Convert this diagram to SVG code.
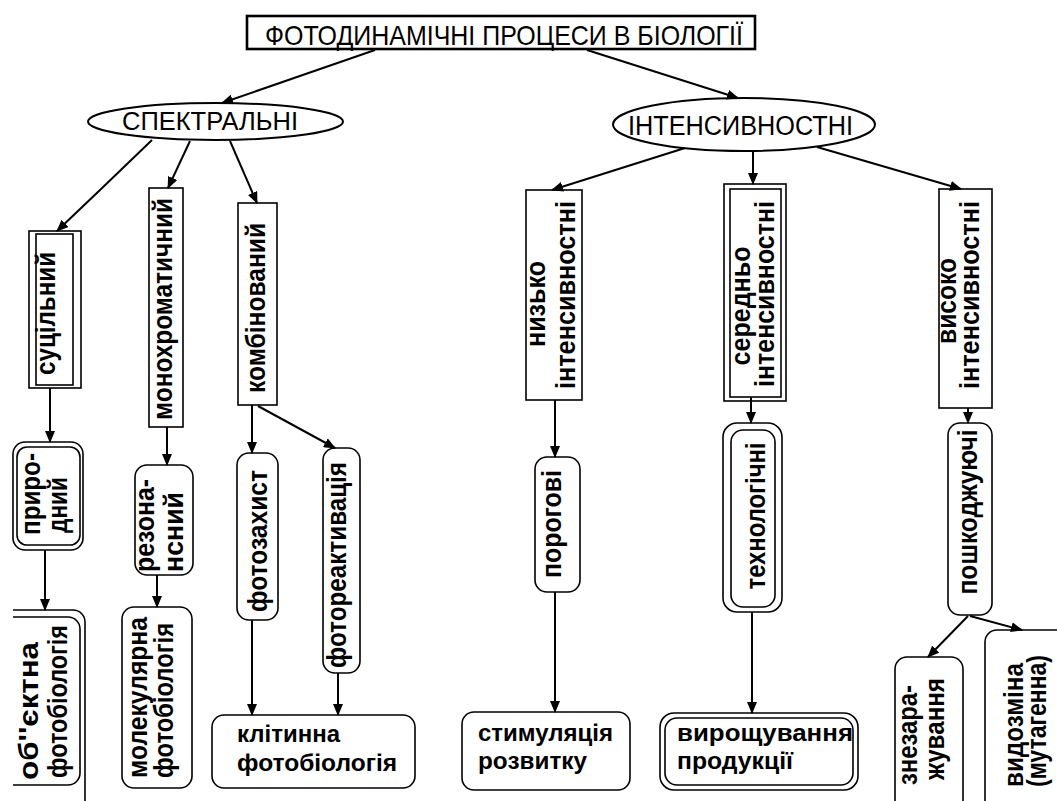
<svg xmlns="http://www.w3.org/2000/svg" width="1057" height="801" viewBox="0 0 1057 801">
<defs>
<marker id="ah" markerWidth="12" markerHeight="10" refX="11" refY="5" orient="auto" markerUnits="userSpaceOnUse"><path d="M0,0 L12,5 L0,10 z" fill="#000"/></marker>
<style>
.n{fill:#fff;stroke:#000;stroke-width:1.6}
.o{fill:none;stroke:#000;stroke-width:1.6}
.t{font-family:"Liberation Sans",Arial,sans-serif;font-size:27px;font-weight:bold;fill:#000}
.w{font-size:24px}
.h{font-family:"Liberation Sans",Arial,sans-serif;fill:#000}
.c{fill:none;stroke:#000;stroke-width:2;marker-end:url(#ah)}
</style>
</defs>
<rect width="1057" height="801" fill="#fff"/>

<g id="title">
<rect x="247" y="16" width="508" height="33" fill="#fff" stroke="#000" stroke-width="2.6"/>
<text class="h" x="265" y="45" font-size="28" textLength="478" lengthAdjust="spacingAndGlyphs">ФОТОДИНАМІЧНІ ПРОЦЕСИ В БІОЛОГІЇ</text>
</g>

<g id="spectral">
<ellipse cx="215.5" cy="121.5" rx="127.5" ry="18.5" fill="#fff" stroke="#000" stroke-width="2"/>
<text class="h" x="122" y="130" font-size="25" textLength="176" lengthAdjust="spacingAndGlyphs">СПЕКТРАЛЬНІ</text>
</g>

<g id="intensity">
<ellipse cx="744" cy="124.5" rx="131" ry="26.5" fill="#fff" stroke="#000" stroke-width="2"/>
<text class="h" x="628" y="135" font-size="27" textLength="225" lengthAdjust="spacingAndGlyphs">ІНТЕНСИВНОСТНІ</text>
</g>

<g id="sucilnyi">
<rect class="n" x="29" y="231" width="52" height="157"/>
<rect class="o" x="36" y="234" width="37" height="151"/>
<text class="t" transform="translate(55,313.5) rotate(-90)" text-anchor="middle" textLength="123" lengthAdjust="spacingAndGlyphs">суцільний</text>
</g>

<g id="monochrom">
<rect class="n" x="149" y="188" width="34" height="239"/>
<text class="t" transform="translate(172,309) rotate(-90)" text-anchor="middle" textLength="222" lengthAdjust="spacingAndGlyphs">монохроматичний</text>
</g>

<g id="kombin">
<rect class="n" x="238" y="203" width="39" height="202"/>
<text class="t" transform="translate(265,308) rotate(-90)" text-anchor="middle" textLength="170" lengthAdjust="spacingAndGlyphs">комбінований</text>
</g>

<g id="nyzko">
<rect class="n" x="526" y="190" width="56" height="210"/>
<text class="t" transform="translate(545,304) rotate(-90)" text-anchor="middle" textLength="86" lengthAdjust="spacingAndGlyphs">низько</text>
<text class="t" transform="translate(575,295) rotate(-90)" text-anchor="middle" textLength="188" lengthAdjust="spacingAndGlyphs">інтенсивностні</text>
</g>

<g id="seredno">
<rect class="n" x="724" y="184" width="62" height="217"/>
<rect class="o" x="730" y="189" width="51" height="208"/>
<text class="t" transform="translate(750,306) rotate(-90)" text-anchor="middle" textLength="119" lengthAdjust="spacingAndGlyphs">середньо</text>
<text class="t" transform="translate(774,294) rotate(-90)" text-anchor="middle" textLength="186" lengthAdjust="spacingAndGlyphs">інтенсивностні</text>
</g>

<g id="vysoko">
<rect class="n" x="939" y="189" width="53" height="219"/>
<text class="t" transform="translate(956,301) rotate(-90)" text-anchor="middle" textLength="86" lengthAdjust="spacingAndGlyphs">високо</text>
<text class="t" transform="translate(979,295) rotate(-90)" text-anchor="middle" textLength="188" lengthAdjust="spacingAndGlyphs">інтенсивностні</text>
</g>

<g id="pryrodnyi">
<rect class="n" x="13" y="442" width="70" height="108" rx="12"/>
<rect class="o" x="17" y="447" width="63" height="98" rx="10"/>
<text class="t" transform="translate(40,535) rotate(-90)" textLength="82" lengthAdjust="spacingAndGlyphs">приро-</text>
<text class="t" transform="translate(67,533) rotate(-90)" textLength="56" lengthAdjust="spacingAndGlyphs">дний</text>
</g>

<g id="rezonansnyi">
<rect class="n" x="135" y="465" width="58" height="110" rx="12"/>
<text class="t" transform="translate(154,572) rotate(-90)" textLength="93" lengthAdjust="spacingAndGlyphs">резона-</text>
<text class="t" transform="translate(183,572) rotate(-90)" textLength="80" lengthAdjust="spacingAndGlyphs">нсний</text>
</g>

<g id="obiektna">
<path class="o" d="M13,610 H73 A12,12 0 0 1 85,622 V801"/>
<path class="o" d="M13,617 H68 A12,12 0 0 1 80,629 V773 A12,12 0 0 1 68,785 H13"/>
<text class="t" transform="translate(38,780) rotate(-90)" textLength="138" lengthAdjust="spacingAndGlyphs">об''єктна</text>
<text class="t" transform="translate(67,778) rotate(-90)" textLength="153" lengthAdjust="spacingAndGlyphs">фотобіологія</text>
</g>

<g id="molekul">
<rect class="n" x="122" y="607" width="70" height="181" rx="12"/>
<text class="t" transform="translate(147,778) rotate(-90)" textLength="161" lengthAdjust="spacingAndGlyphs">молекулярна</text>
<text class="t" transform="translate(173,778) rotate(-90)" textLength="155" lengthAdjust="spacingAndGlyphs">фотобіологія</text>
</g>

<g id="fotozakhyst">
<rect class="n" x="237" y="453" width="41" height="167" rx="12"/>
<text class="t" transform="translate(267,541) rotate(-90)" text-anchor="middle" textLength="142" lengthAdjust="spacingAndGlyphs">фотозахист</text>
</g>

<g id="fotoreakt">
<rect class="n" x="323" y="448" width="37" height="225" rx="12"/>
<text class="t" transform="translate(346,565) rotate(-90)" text-anchor="middle" textLength="206" lengthAdjust="spacingAndGlyphs">фотореактивація</text>
</g>

<g id="klitynna">
<rect class="n" x="212" y="715" width="203" height="73" rx="12"/>
<text class="t w" x="237" y="742" textLength="103" lengthAdjust="spacingAndGlyphs">клітинна</text>
<text class="t w" x="237" y="771" textLength="160" lengthAdjust="spacingAndGlyphs">фотобіологія</text>
</g>

<g id="porohovi">
<rect class="n" x="535" y="457" width="45" height="135" rx="12"/>
<text class="t" transform="translate(561,524) rotate(-90)" text-anchor="middle" textLength="108" lengthAdjust="spacingAndGlyphs">порогові</text>
</g>

<g id="stymuliatsiia">
<rect class="n" x="462" y="712" width="168" height="78" rx="12"/>
<text class="t w" x="478" y="741" textLength="135" lengthAdjust="spacingAndGlyphs">стимуляція</text>
<text class="t w" x="478" y="769" textLength="109" lengthAdjust="spacingAndGlyphs">розвитку</text>
</g>

<g id="tekhnolohichni">
<rect class="n" x="723" y="423" width="59" height="189" rx="14"/>
<rect class="o" x="731" y="430" width="44" height="177" rx="12"/>
<text class="t" transform="translate(765,516) rotate(-90)" text-anchor="middle" textLength="147" lengthAdjust="spacingAndGlyphs">технологічні</text>
</g>

<g id="vyroshchuvannia">
<rect class="n" x="660" y="713" width="198" height="77" rx="14"/>
<rect class="o" x="665" y="718" width="188" height="67" rx="12"/>
<text class="t w" x="677" y="741" textLength="176" lengthAdjust="spacingAndGlyphs">вирощування</text>
<text class="t w" x="677" y="769" textLength="116" lengthAdjust="spacingAndGlyphs">продукції</text>
</g>

<g id="poshkodzh">
<rect class="n" x="948" y="423" width="44" height="192" rx="12"/>
<text class="t" transform="translate(977,512) rotate(-90)" text-anchor="middle" textLength="165" lengthAdjust="spacingAndGlyphs">пошкоджуючі</text>
</g>

<g id="znezarazh">
<rect class="n" x="895" y="657" width="68" height="170" rx="12"/>
<text class="t" transform="translate(917,785) rotate(-90)" textLength="100" lengthAdjust="spacingAndGlyphs">знезара-</text>
<text class="t" transform="translate(944,780) rotate(-90)" textLength="102" lengthAdjust="spacingAndGlyphs">жування</text>
</g>

<g id="vydozmina">
<rect class="n" x="985" y="630" width="90" height="200" rx="12"/>
<text class="t" transform="translate(1023,787) rotate(-90)" textLength="124" lengthAdjust="spacingAndGlyphs">видозміна</text>
<text class="t" transform="translate(1046,787) rotate(-90)" textLength="132" lengthAdjust="spacingAndGlyphs">(мутагенна)</text>
</g>

<g id="connectors">
<path class="c" d="M375,50 L222,103"/>
<path class="c" d="M587,50 L738,98"/>
<path class="c" d="M152,140 L100,190 L57,231"/>
<path class="c" d="M190,141 L168,188"/>
<path class="c" d="M230,141 L257,203"/>
<path class="c" d="M685,148 L552,190"/>
<path class="c" d="M753,151 L753,184"/>
<path class="c" d="M817,147 L961,189"/>
<path class="c" d="M50,388 L50,442"/>
<path class="c" d="M167,427 L167,465"/>
<path class="c" d="M252,405 L252,453"/>
<path class="c" d="M258,406 L335,448"/>
<path class="c" d="M555,400 L555,457"/>
<path class="c" d="M751,397 L751,423"/>
<path class="c" d="M968,408 L968,423"/>
<path class="c" d="M45,550 L45,610"/>
<path class="c" d="M157,575 L157,607"/>
<path class="c" d="M252,620 L252,715"/>
<path class="c" d="M338,673 L338,715"/>
<path class="c" d="M555,592 L555,712"/>
<path class="c" d="M752,612 L752,713"/>
<path class="c" d="M968,616 L928,657"/>
<path class="c" d="M970,616 L1022,630"/>
</g>
</svg>
